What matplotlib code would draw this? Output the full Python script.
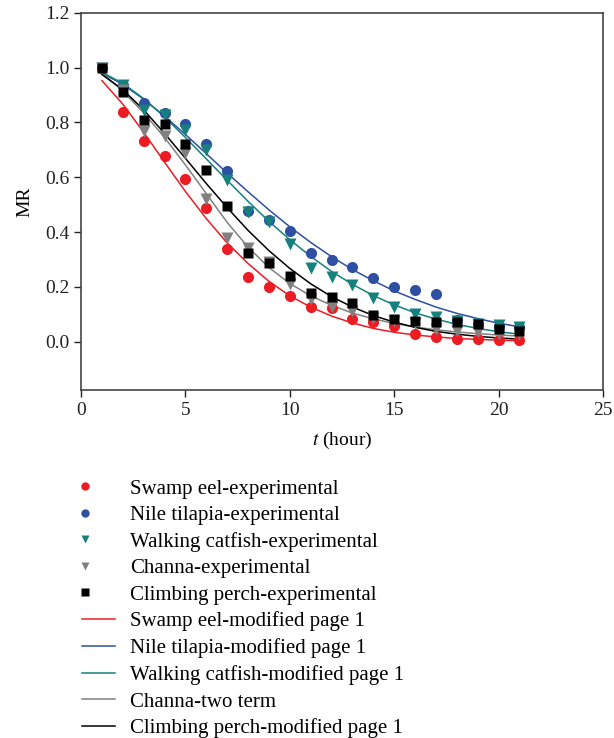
import numpy as np
import matplotlib
matplotlib.use("Agg")
import matplotlib.pyplot as plt
from matplotlib.lines import Line2D
from matplotlib.legend_handler import HandlerLine2DCompound

plt.rcParams['font.family'] = ['Liberation Serif', 'DejaVu Serif']
plt.rcParams['mathtext.fontset'] = 'stix'

# drying time (hour)
t = [1, 2, 3, 4, 5, 6, 7, 8, 9, 10, 11, 12, 13, 14, 15, 16, 17, 18, 19, 20, 21]

# experimental moisture ratio
swamp_eel_exp = [1.0, 0.837, 0.733, 0.677, 0.595, 0.488, 0.339, 0.235, 0.2, 0.166, 0.126,
                 0.123, 0.082, 0.07, 0.055, 0.029, 0.015, 0.011, 0.008, 0.006, 0.005]
nile_tilapia_exp = [1.0, 0.937, 0.872, 0.836, 0.794, 0.72, 0.621, 0.478, 0.445, 0.402, 0.322,
                    0.296, 0.271, 0.231, 0.201, 0.189, 0.175, 0.078, 0.065, 0.058, 0.052]
walking_catfish_exp = [1.0, 0.935, 0.847, 0.826, 0.772, 0.699, 0.589, 0.473, 0.438, 0.357, 0.268,
                       0.237, 0.208, 0.159, 0.125, 0.1, 0.088, 0.075, 0.065, 0.06, 0.054]
channa_exp = [1.0, 0.92, 0.769, 0.75, 0.69, 0.522, 0.378, 0.34, 0.29, 0.21, 0.155,
              0.127, 0.113, 0.086, 0.075, 0.066, 0.045, 0.039, 0.036, 0.028, 0.027]
climbing_perch_exp = [1.0, 0.913, 0.81, 0.794, 0.72, 0.628, 0.494, 0.325, 0.287, 0.241, 0.176,
                      0.161, 0.139, 0.098, 0.084, 0.076, 0.072, 0.07, 0.064, 0.045, 0.039]

# model curves
swamp_eel_fit = [0.953, 0.867, 0.764, 0.655, 0.548, 0.449, 0.36, 0.285, 0.22, 0.167, 0.126,
                 0.093, 0.068, 0.048, 0.034, 0.024, 0.017, 0.011, 0.008, 0.005, 0.003]
nile_tilapia_fit = [0.98, 0.939, 0.885, 0.823, 0.756, 0.686, 0.615, 0.547, 0.481, 0.419, 0.362,
                    0.31, 0.263, 0.222, 0.185, 0.154, 0.126, 0.103, 0.084, 0.067, 0.054]
walking_catfish_fit = [0.983, 0.943, 0.887, 0.82, 0.745, 0.667, 0.589, 0.512, 0.439, 0.372, 0.311,
                       0.256, 0.209, 0.168, 0.134, 0.105, 0.082, 0.063, 0.048, 0.036, 0.027]
channa_fit = [0.98, 0.915, 0.835, 0.745, 0.645, 0.54, 0.435, 0.345, 0.27, 0.212, 0.167,
              0.132, 0.104, 0.083, 0.066, 0.053, 0.043, 0.035, 0.029, 0.024, 0.02]
climbing_perch_fit = [0.975, 0.92, 0.846, 0.76, 0.669, 0.577, 0.489, 0.406, 0.332, 0.267, 0.211,
                      0.164, 0.126, 0.095, 0.071, 0.052, 0.037, 0.027, 0.019, 0.013, 0.009]

red = '#ed1c24'
blue = '#2f4fa2'
teal = '#15807c'
gray = '#808080'
black = '#000000'


class LeftMarkerHandler(HandlerLine2DCompound):
    # marker sits at the left end of the legend handle
    def get_xdata(self, legend, xdescent, ydescent, width, height, fontsize):
        xdata, xm = super().get_xdata(legend, xdescent, ydescent, width, height, fontsize)
        return xdata, [-xdescent + 0.1 * width]


fig = plt.figure(figsize=(6.14, 7.38), dpi=100)
ax = fig.add_axes([0.132, 0.4715, 0.850, 0.511])

ms = 8
ax.plot(t, swamp_eel_fit, color=red, lw=1.1, zorder=2)
ax.plot(t, nile_tilapia_fit, color=blue, lw=1.1, zorder=2)
ax.plot(t, walking_catfish_fit, color=teal, lw=1.1, zorder=2)
ax.plot(t, channa_fit, color=gray, lw=1.1, zorder=2)
ax.plot(t, climbing_perch_fit, color=black, lw=1.1, zorder=2)

ax.plot(t, swamp_eel_exp, 'o', color=red, ms=ms, mec='none', zorder=3)
ax.plot(t, nile_tilapia_exp, 'o', color=blue, ms=ms, mec='none', zorder=3)
ax.plot(t, walking_catfish_exp, 'v', color=teal, ms=ms, mec='none', zorder=3)
ax.plot(t, channa_exp, 'v', color=gray, ms=ms, mec='none', zorder=3)
ax.plot(t, climbing_perch_exp, 's', color=black, ms=ms - 0.5, mec='none', zorder=3)

ax.set_xlim(0, 25)
ax.set_ylim(-0.177, 1.2)
ax.set_xticks([0, 5, 10, 15, 20, 25])
ax.set_yticks([0.0, 0.2, 0.4, 0.6, 0.8, 1.0, 1.2])
ax.set_yticklabels(['0.0', '0.2', '0.4', '0.6', '0.8', '1.0', '1.2'])
ax.tick_params(direction='out', length=5, width=1, labelsize=14, colors='#222222')
for s in ax.spines.values():
    s.set_color('#444444')
    s.set_linewidth(1.2)

ax.set_ylabel('MR', fontsize=14, labelpad=8)
ax.set_xlabel(r'$t$ (hour)', fontsize=14, labelpad=8)

handles = [
    Line2D([], [], marker='o', ls='none', color=red, ms=6, mec='none'),
    Line2D([], [], marker='o', ls='none', color=blue, ms=6, mec='none'),
    Line2D([], [], marker='v', ls='none', color=teal, ms=6, mec='none'),
    Line2D([], [], marker='v', ls='none', color=gray, ms=6, mec='none'),
    Line2D([], [], marker='s', ls='none', color=black, ms=6, mec='none'),
    Line2D([], [], color=red, lw=1.1),
    Line2D([], [], color=blue, lw=1.1),
    Line2D([], [], color=teal, lw=1.1),
    Line2D([], [], color=gray, lw=1.1),
    Line2D([], [], color=black, lw=1.1),
]
labels = [
    'Swamp eel-experimental',
    'Nile tilapia-experimental',
    'Walking catfish-experimental',
    'Channa-experimental',
    'Climbing perch-experimental',
    'Swamp eel-modified page 1',
    'Nile tilapia-modified page 1',
    'Walking catfish-modified page 1',
    'Channa-two term',
    'Climbing perch-modified page 1',
]
fig.legend(handles, labels, loc='upper left', bbox_to_anchor=(0.1336, 0.351),
           frameon=False, fontsize=15, handlelength=1.6, handletextpad=0.72,
           labelspacing=0.33, borderaxespad=0, borderpad=0,
           handler_map={Line2D: LeftMarkerHandler()})

fig.savefig('out.png', dpi=100)
